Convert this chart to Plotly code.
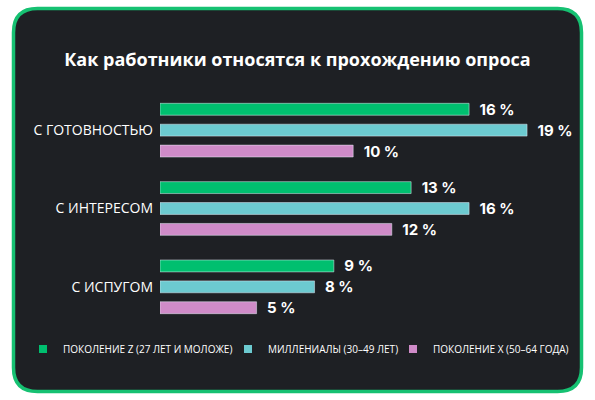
import plotly.graph_objects as go

# данные опроса
categories = ['С ГОТОВНОСТЬЮ', 'С ИНТЕРЕСОМ', 'С ИСПУГОМ']
gen_z = [16, 13, 9]
millennials = [19, 16, 8]
gen_x = [10, 12, 5]
series_names = ['ПОКОЛЕНИЕ Z (27 ЛЕТ И МОЛОЖЕ)', 'МИЛЛЕНИАЛЫ (30–49 ЛЕТ)', 'ПОКОЛЕНИЕ X (50–64 ГОДА)']
colors = ['#00bf6f', '#6ccad0', '#cf8bc8']

W, H = 595, 400
ML, MR, MT, MB = 160, 10, 91, 74
PW, PH = W - ML - MR, H - MT - MB
CARD_BG = '#1e2024'
BORDER = '#16c172'


def px2paper(x, y):
    return (x - ML) / PW, (H - MB - y) / PH


def rounded_rect(x0, y0, x1, y1, r):
    pts = [
        ('M', [(x0 + r, y0)]), ('L', [(x1 - r, y0)]), ('Q', [(x1, y0), (x1, y0 + r)]),
        ('L', [(x1, y1 - r)]), ('Q', [(x1, y1), (x1 - r, y1)]), ('L', [(x0 + r, y1)]),
        ('Q', [(x0, y1), (x0, y1 - r)]), ('L', [(x0, y0 + r)]), ('Q', [(x0, y0), (x0 + r, y0)]),
    ]
    path = ''
    for cmd, coords in pts:
        path += cmd + ' '.join('%.5f,%.5f' % px2paper(cx, cy) for cx, cy in coords) + ' '
    return path + 'Z'


fig = go.Figure()
for vals, name, col in zip([gen_z, millennials, gen_x], series_names, colors):
    fig.add_trace(go.Bar(
        y=categories, x=vals, orientation='h', marker_color=col, name=name,
        legendgroup=name, showlegend=False,
        texttemplate='<b>\u2002%{x} %</b>', textposition='outside', constraintext='none',
        outsidetextfont=dict(family='Inter', size=15, color='white'),
        cliponaxis=False, hoverinfo='skip'
    ))

# легенда: отдельные блоки, как на картинке
legend_px = [23, 228, 393]
for i, (name, col) in enumerate(zip(series_names, colors)):
    key = 'legend' if i == 0 else 'legend%d' % (i + 1)
    lx, ly = px2paper(legend_px[i], 349)
    fig.add_trace(go.Scatter(
        x=[None], y=[None], xaxis='x2', yaxis='y2', mode='markers', name=name, legend=key,
        marker=dict(symbol='square', size=8, color=col), hoverinfo='skip'
    ))
    fig.update_layout(**{key: dict(
        x=lx, y=ly, xanchor='left', yanchor='middle', bgcolor='rgba(0,0,0,0)',
        font=dict(family='Open Sans', size=10, color='white'),
        itemclick=False, itemdoubleclick=False
    )})

fig.add_shape(type='path', xref='paper', yref='paper', layer='below',
              path=rounded_rect(13.5, 8.5, 581.5, 391.5, 24),
              fillcolor=CARD_BG, line=dict(color=BORDER, width=3.5))

fig.update_layout(
    width=W, height=H,
    margin=dict(l=ML, r=MR, t=MT, b=MB, autoexpand=False),
    paper_bgcolor='white', plot_bgcolor='rgba(0,0,0,0)',
    barmode='group', bargap=0.2, bargroupgap=0.43,
    title=dict(text='<b>Как работники относятся к прохождению опроса</b>',
               x=0.5, xanchor='center', y=(H - 60) / H, yanchor='middle',
               font=dict(family='Open Sans', size=18, color='white')),
    xaxis=dict(range=[0, 22], visible=False, fixedrange=True),
    yaxis=dict(autorange='reversed', showgrid=False, zeroline=False, showline=False,
               ticks='', ticklabelstandoff=6,
               tickfont=dict(family='Open Sans', size=14, color='white'),
               fixedrange=True),
    xaxis2=dict(overlaying='x', range=[0, 1], visible=False),
    yaxis2=dict(overlaying='y', range=[0, 1], visible=False),
)

fig.write_html('out.html', config={'displayModeBar': False},
               post_script="document.body.style.margin='0';")
